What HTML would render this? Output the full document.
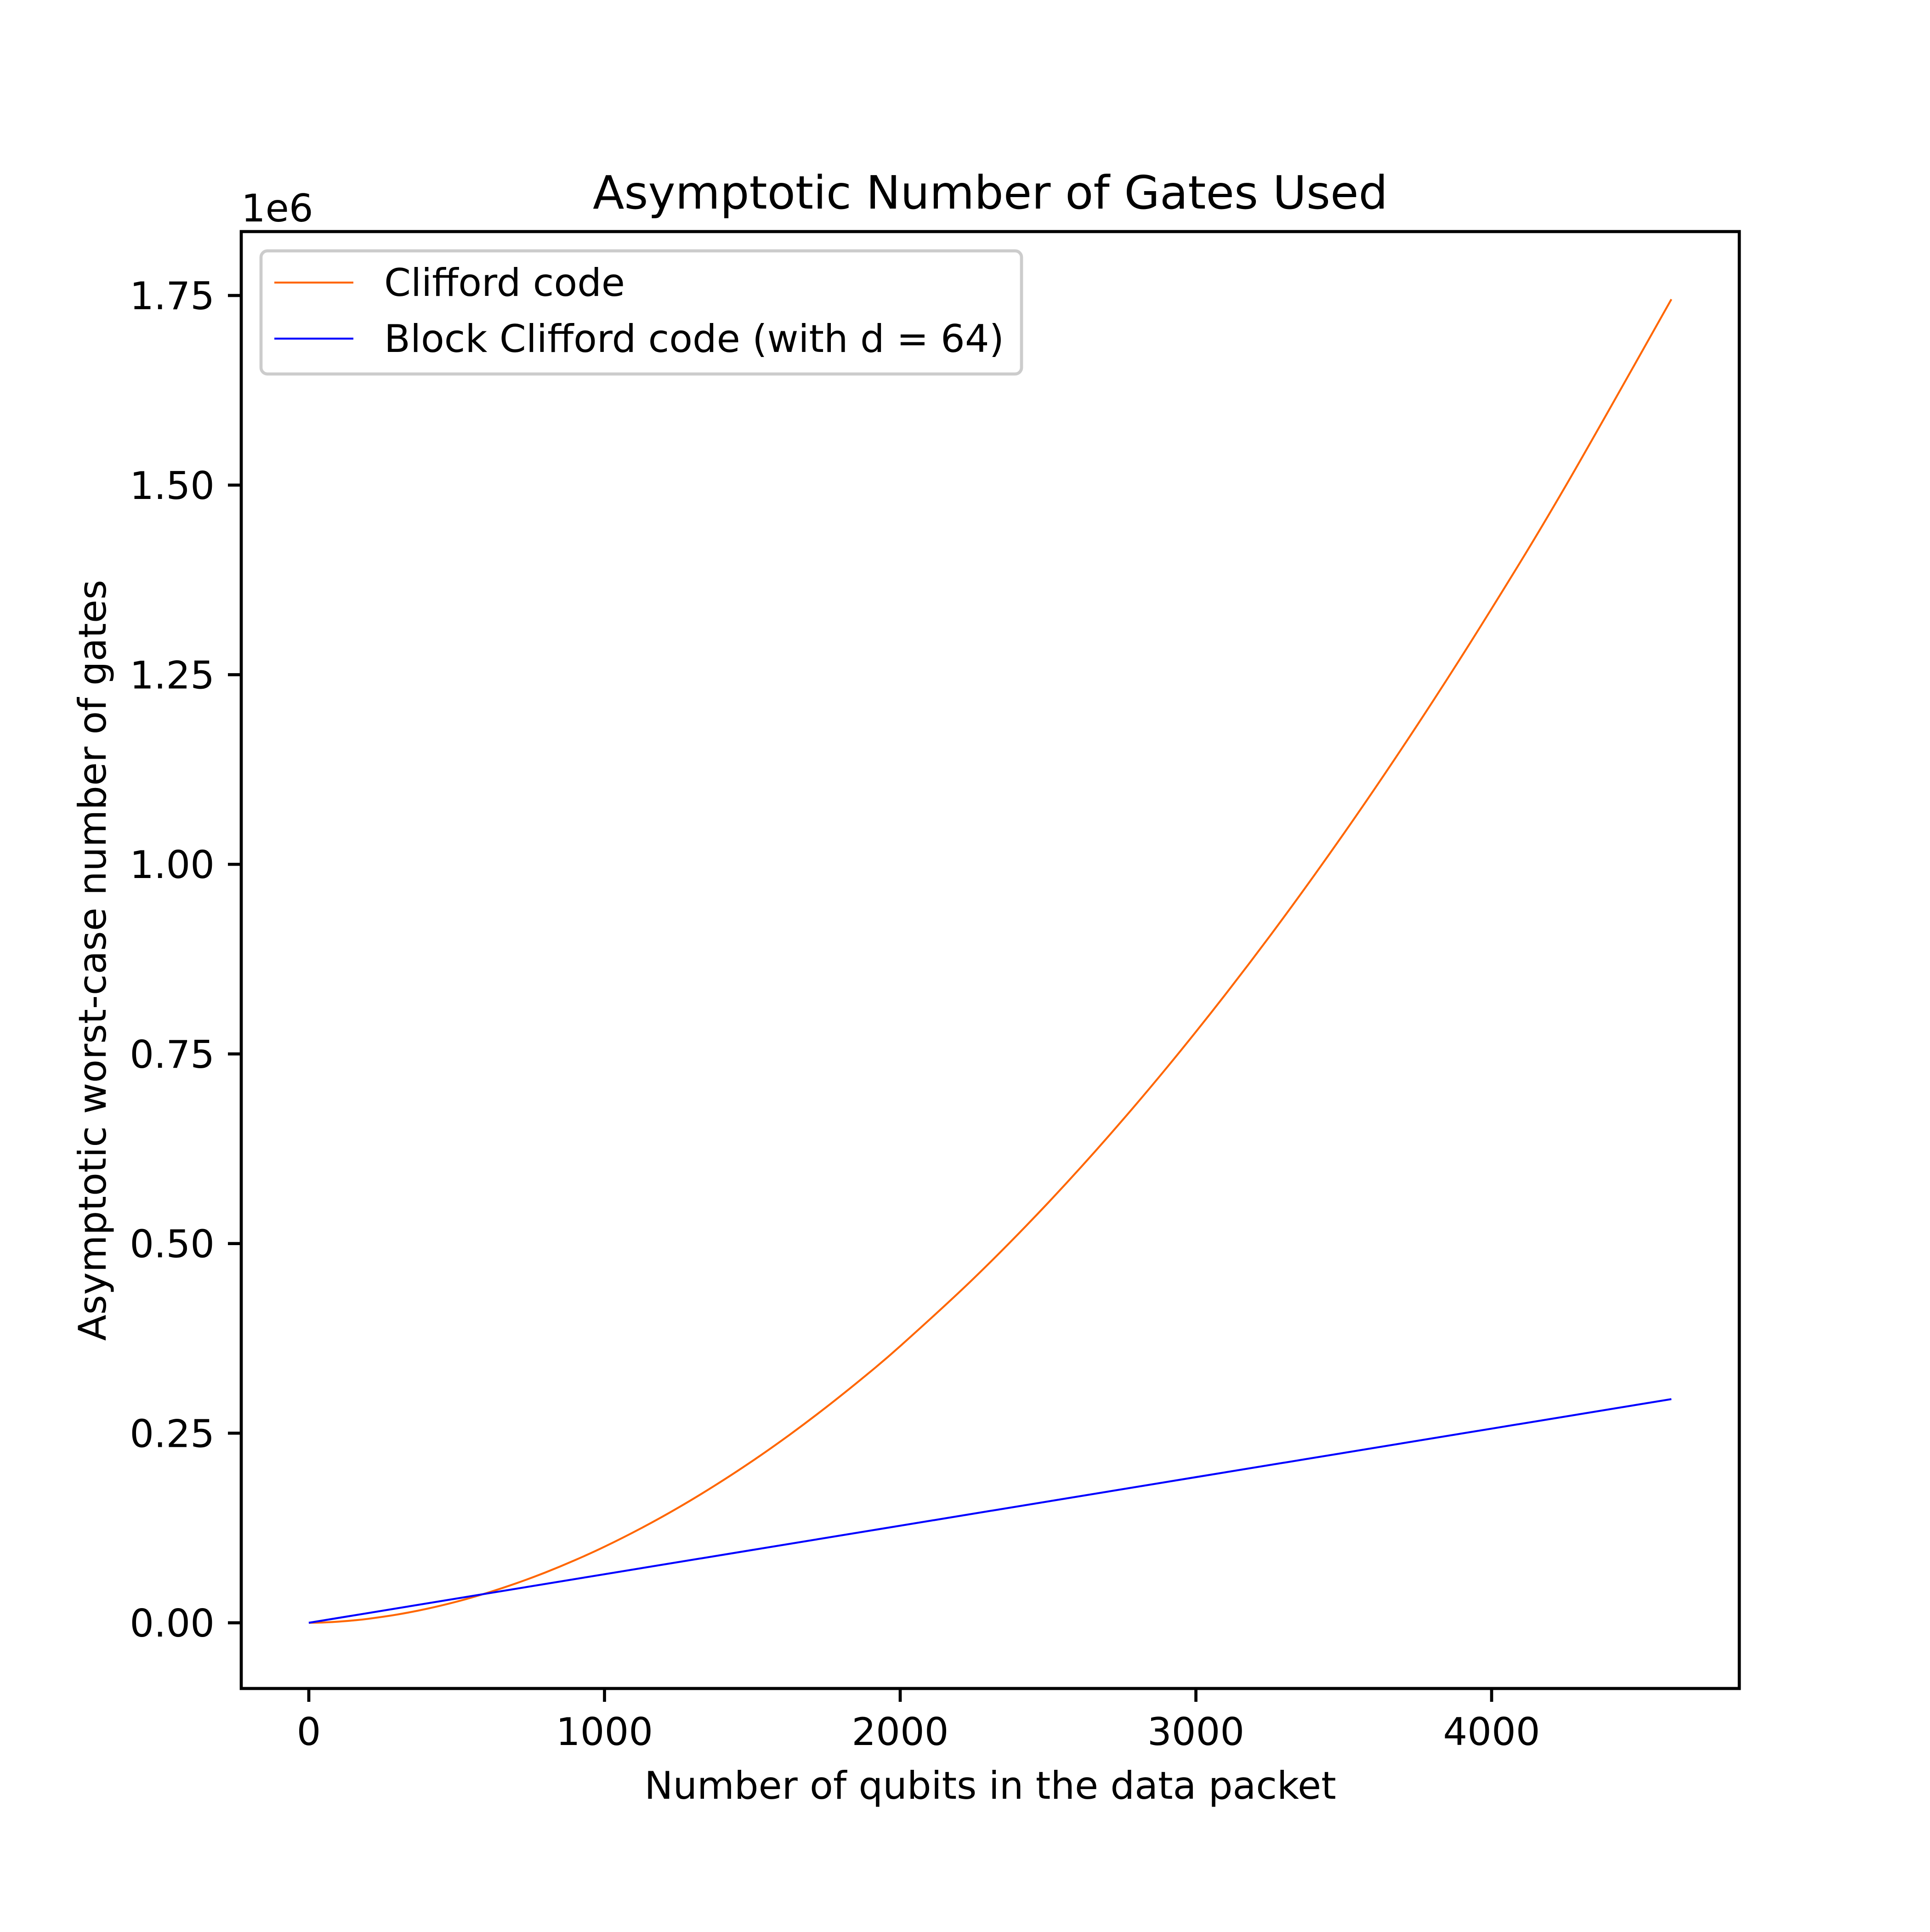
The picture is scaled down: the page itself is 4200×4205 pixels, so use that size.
<!DOCTYPE html>
<html><head><meta charset="utf-8"><style>
html,body{margin:0;padding:0;background:#fff}
svg text{font-family:"DejaVu Sans","Liberation Sans",sans-serif;fill:#000}
</style></head><body>
<svg id="chart" width="4200" height="4200" viewBox="0 0 4200 4200" xmlns="http://www.w3.org/2000/svg">
<rect width="4200" height="4200" fill="#fff"/>
<g id="plot"></g>
</svg>
<script>
const xTicks = [0, 1000, 2000, 3000, 4000];
const yTicks = [0, 0.25, 0.5, 0.75, 1.0, 1.25, 1.5, 1.75];
const yTickLabels = ["0.00","0.25","0.50","0.75","1.00","1.25","1.50","1.75"];
const cliffordX = [0,50,100,150,200,300,400,500,600,700,800,900,1000,1125,1250,1375,1500,1625,1750,1875,2000,2250,2500,2750,3000,3250,3500,3750,4000,4250,4608];
const cliffordY = [0,440,1500,3110,5230,10940,18510,27880,39000,51850,66360,82540,100300,124900,151900,181400,213300,247600,284300,323300,364800,454600,553700,661900,779200,905400,1040500,1184400,1337100,1498600,1745000];
const blockX = [0, 1000, 2000, 3000, 4000, 4608];
const blockY = [0, 64000, 128000, 192000, 256000, 294900];

const L=525,R=3785,T=504,B=3675;
function sx(v){return 672 + v*0.6435;}
function sy(v){return 3532 - v/1e6*1650.8;}
const NS="http://www.w3.org/2000/svg";
const g=document.getElementById('plot');
function mk(tag,attrs,parent){const e=document.createElementNS(NS,tag);for(const k in attrs)e.setAttribute(k,attrs[k]);(parent||g).appendChild(e);return e;}

function path(xs,ys,color,name){
  const P=xs.map(function(x,i){return [sx(x),sy(ys[i])];});
  let d='M'+P[0][0].toFixed(1)+' '+P[0][1].toFixed(1);
  for(let i=0;i<P.length-1;i++){
    const p0=P[Math.max(0,i-1)],p1=P[i],p2=P[i+1],p3=P[Math.min(P.length-1,i+2)];
    const c1=[p1[0]+(p2[0]-p0[0])/6,p1[1]+(p2[1]-p0[1])/6];
    const c2=[p2[0]-(p3[0]-p1[0])/6,p2[1]-(p3[1]-p1[1])/6];
    d+='C'+c1[0].toFixed(1)+' '+c1[1].toFixed(1)+' '+c2[0].toFixed(1)+' '+c2[1].toFixed(1)+' '+p2[0].toFixed(1)+' '+p2[1].toFixed(1);
  }
  const p=mk('path',{d:d,fill:'none',stroke:color,'stroke-width':4.2,'stroke-linejoin':'round'});
  
  
}
path(cliffordX,cliffordY,'#ff6600','clifford-code-line');
path(blockX,blockY,'#0000ff','block-clifford-code-line');

const frame=mk('rect',{x:L,y:T,width:R-L,height:B-T,fill:'none',stroke:'#000','stroke-width':6.7});



xTicks.forEach(function(v){
  const x=sx(v);
  const t=mk('line',{x1:x,y1:B,x2:x,y2:B+29,stroke:'#000','stroke-width':6.7});
  
  
  const tx=mk('text',{x:x,y:3798,'font-size':83,'text-anchor':'middle'});
  tx.textContent=String(v);
  
  
});
yTicks.forEach(function(v,i){
  const y=sy(v*1e6);
  const t=mk('line',{x1:L-29,y1:y,x2:L,y2:y,stroke:'#000','stroke-width':6.7});
  
  
  const tx=mk('text',{x:467,y:y+30,'font-size':83,'text-anchor':'end'});
  tx.textContent=yTickLabels[i];
  
  
});
</script>
<svg style="position:absolute;left:0;top:0" width="4200" height="4200" viewBox="0 0 4200 4200" xmlns="http://www.w3.org/2000/svg">
<text x="2155" y="454" font-size="100" text-anchor="middle">Asymptotic Number of Gates Used</text>
<text x="525" y="482" font-size="83">1e6</text>
<text x="2155" y="3915" font-size="83" text-anchor="middle">Number of qubits in the data packet</text>
<text transform="translate(230,2090) rotate(-90)" font-size="83" text-anchor="middle">Asymptotic worst-case number of gates</text>
<g>
<rect x="568" y="546" width="1655" height="268" rx="14" fill="#fff" fill-opacity="0.8" stroke="#cccccc" stroke-width="6.7"/>
<line x1="597" y1="615" x2="769" y2="615" stroke="#ff6600" stroke-width="4.2"/>
<text x="836" y="644" font-size="83">Clifford code</text>
<line x1="597" y1="737" x2="769" y2="737" stroke="#0000ff" stroke-width="4.2"/>
<text x="836" y="766" font-size="83">Block Clifford code (with d = 64)</text>
</g>
</svg>
</body></html>
